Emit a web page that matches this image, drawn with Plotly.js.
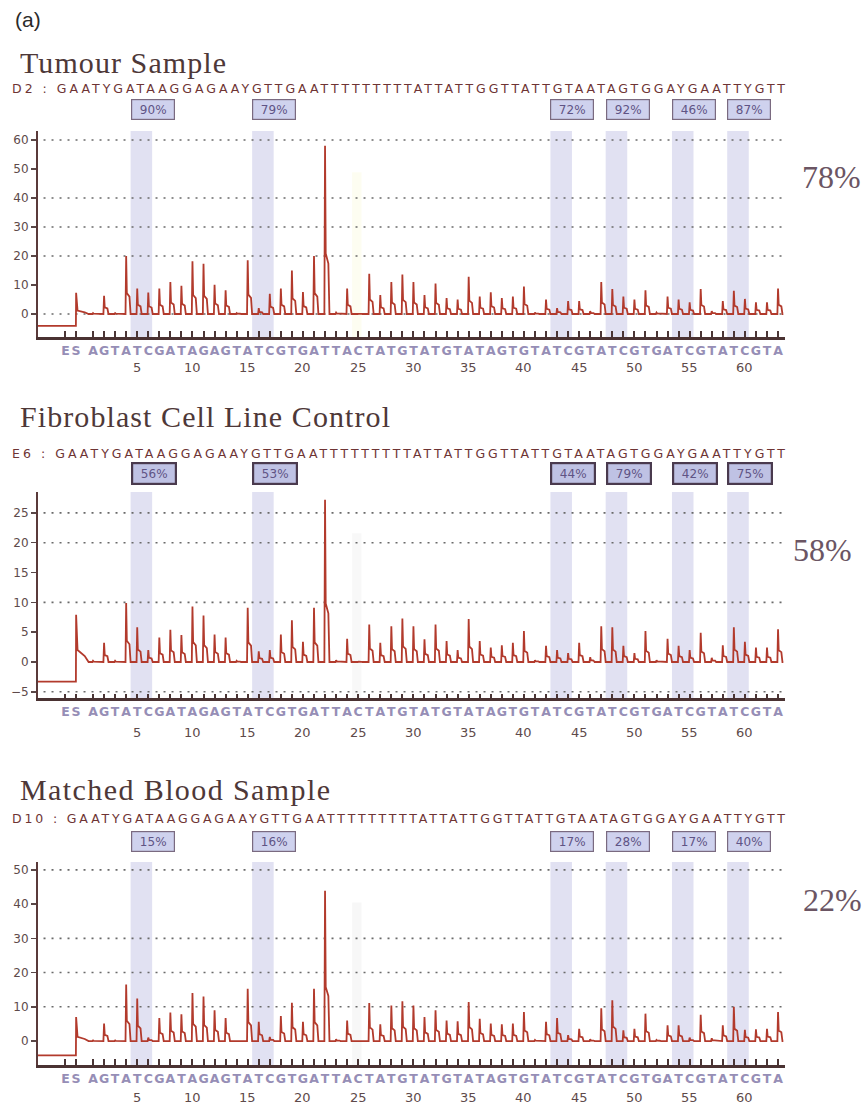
<!DOCTYPE html>
<html>
<head>
<meta charset="utf-8">
<script src="https://cdn.plot.ly/plotly-3.0.1.min.js"></script>
<style>
  html, body { margin: 0; padding: 0; background: #ffffff; }
  #chart { width: 864px; height: 1108px; }
</style>
</head>
<body>
<div id="chart"></div>
<script>
// ---------------- DATA ----------------
// dispensation order (after E and S)
const DISPENSATIONS = 'AGTATCGATAGAGTATCGTGATTACTATGTATGTATAGTGTATCGTATCGTGATCGTATCGTA';
const CONTROL_LETTERS = ['E', 'S'];
const SEQUENCE = 'GAATYGATAAGGAGAAYGTTGAATTTTTTTTTATTATTGGTTATTGTAATAGTGGAYGAATTYGTT';
const SAMPLE_IDS = ['D2', 'E6', 'D10'];
const PANEL_TITLES = ['Tumour Sample', 'Fibroblast Cell Line Control', 'Matched Blood Sample'];
const OVERALL_METHYLATION = ['78%', '58%', '22%'];

// peak heights per dispensation (1..63)
const TUMOUR_HEIGHTS = [0.3, 6.3, 0.3, 20, 8.8, 7.4, 8.8, 11, 9.7, 18.2,
  17.3, 10.1, 8.2, 0.3, 18.5, 2, 7, 8.8, 15, 7.6,
  20, 58, 0.5, 8.8, 0.2, 13.9, 6.5, 11, 13.6, 11,
  6.5, 10.5, 5.5, 5, 12.8, 6, 7.5, 5.5, 6, 9.5,
  0.5, 5, 2, 4.5, 4.5, 1, 11, 8.6, 6, 5,
  8.2, 0.5, 6, 5, 4, 8.6, 1, 4.5, 8, 5.2,
  4, 4, 8.8];
const FIBRO_HEIGHTS = [0.2, 3.2, 0.2, 9.9, 5.8, 2, 4.1, 5.4, 4.5, 9.3,
  7.8, 4.6, 4.1, 0.2, 9.1, 1.8, 2, 4.6, 7, 3.4,
  9.1, 27.2, 0.3, 3.9, 0.1, 6.3, 3.2, 6, 7.3, 6,
  3.8, 6.3, 3.5, 2, 7.2, 3.5, 2.4, 2.8, 3.2, 5.2,
  0.3, 2.7, 2, 1.5, 3.2, 0.8, 6, 5.8, 2.7, 1.5,
  5.2, 0.3, 3.9, 2.7, 2, 4.9, 0.7, 2.8, 5.8, 3.4,
  2.4, 2.4, 5.5];
const BLOOD_HEIGHTS = [0.2, 5.1, 0.2, 16.5, 12.4, 1, 6.7, 8.3, 7.8, 14,
  13, 9, 6.7, 0.2, 15.3, 5.6, 1.2, 7.3, 11.2, 5.6,
  15.3, 43.9, 0.5, 6, 0.2, 11.1, 4.9, 10.4, 11.6, 10.4,
  7, 9, 6, 5.8, 11.4, 6.5, 5.1, 4.9, 5.1, 8.5,
  0.3, 5.6, 6.7, 1.7, 3.6, 0.5, 9.6, 11.9, 3.1, 3.6,
  8, 0.3, 4.6, 4.6, 1, 7.7, 0.8, 4.6, 10, 3.3,
  3.4, 3.6, 8.5];

// signal before / at the E-S step
const PRE_LEVEL = [-4.1, -3.3, -4.2];
const STEP_PEAK = [7.3, 7.9, 7.0];
const POST_LEVEL = [1.2, 2.0, 1.2];

// CpG sites (T dispensation position of each T/C pair) and their methylation
const CPG_T_POSITIONS = [5, 16, 43, 48, 54, 59];
const BISULFITE_CONTROL = 25;
const TUMOUR_PCT = ['90%', '79%', '72%', '92%', '46%', '87%'];
const FIBRO_PCT = ['56%', '53%', '44%', '79%', '42%', '75%'];
const BLOOD_PCT = ['15%', '16%', '17%', '28%', '17%', '40%'];

// axis ticks
const Y_TICKS_TUMOUR = [0, 10, 20, 30, 40, 50, 60];
const Y_TICKS_FIBRO = [-5, 0, 5, 10, 15, 20, 25];
const Y_TICKS_BLOOD = [0, 10, 20, 30, 40, 50];
const GRID_TUMOUR = [0, 20, 30, 40, 60];
const GRID_FIBRO = [-5, 10, 20, 25];
const GRID_BLOOD = [10, 20, 30, 50];
const NUMBER_TICKS = [5, 10, 15, 20, 25, 30, 35, 40, 45, 50, 55, 60];

// ---------------- LAYOUT HELPERS ----------------
const W = 864, H = 1108;
const py = px => 1 - px / H;
const E_POS = -1.5, S_POS = -0.55;
const X_MIN = -3.98, X_MAX = 63.63;

const PANELS = [
  { h: TUMOUR_HEIGHTS, pct: TUMOUR_PCT, yt: Y_TICKS_TUMOUR, grid: GRID_TUMOUR, range: [-7.93, 63.1],
    top: 131, bottom: 337, titleY: 62, titleW: 206, seqY: 88, boxY: 110, numY: 367,
    ovX: 831, ovY: 177, boxBorder: '#7a6a80', boxBW: 1.2, boxBg: '#cfd2ee', faint: 'rgba(248,248,215,0.35)', tickLen: 6 },
  { h: FIBRO_HEIGHTS, pct: FIBRO_PCT, yt: Y_TICKS_FIBRO, grid: GRID_FIBRO, range: [-6.04, 28.5],
    top: 492, bottom: 698, titleY: 416, titleW: 370, seqY: 453, boxY: 473, numY: 732,
    ovX: 822, ovY: 550, boxBorder: '#4a3a4e', boxBW: 2.2, boxBg: '#bfc2e4', faint: 'rgba(236,236,236,0.35)', tickLen: 4 },
  { h: BLOOD_HEIGHTS, pct: BLOOD_PCT, yt: Y_TICKS_BLOOD, grid: GRID_BLOOD, range: [-7.0, 52.3],
    top: 862, bottom: 1065, titleY: 789, titleW: 310, seqY: 818, boxY: 841, numY: 1097,
    ovX: 832, ovY: 900, boxBorder: '#7a6a80', boxBW: 1.2, boxBg: '#cfd2ee', faint: 'rgba(234,234,234,0.4)', tickLen: 6 }
];

const letterVals = [E_POS, S_POS];
const letterText = CONTROL_LETTERS.slice();
DISPENSATIONS.split('').forEach((c, i) => { letterVals.push(i + 1); letterText.push(c); });

function buildTrace(h, k) {
  const xs = [X_MIN, S_POS, S_POS + 0.02, S_POS + 0.15, S_POS + 0.8, 0.6];
  const ys = [PRE_LEVEL[k], PRE_LEVEL[k], STEP_PEAK[k], POST_LEVEL[k], POST_LEVEL[k] * 0.5, 0];
  h.forEach((v, i) => {
    const p = i + 1;
    xs.push(p - 0.06, p, p + 0.06, p + 0.3, p + 0.4);
    ys.push(0, v, v * 0.36, v * 0.3, 0);
  });
  xs.push(X_MAX - 0.15); ys.push(0);
  return { xs, ys };
}

const data = [];
const shapes = [];
const annotations = [];
const layout = {
  width: W, height: H,
  margin: { l: 0, r: 0, t: 0, b: 0 },
  paper_bgcolor: '#ffffff', plot_bgcolor: 'rgba(0,0,0,0)',
  showlegend: false,
  font: { family: 'DejaVu Sans, sans-serif' }
};

annotations.push({ xref: 'paper', yref: 'paper', x: 13 / W, y: py(19), xanchor: 'left', yanchor: 'middle',
  text: '(a)', showarrow: false, font: { family: 'Liberation Sans, Arial, sans-serif', size: 21, color: '#2a2a2a' } });

PANELS.forEach((P, k) => {
  const sfx = k === 0 ? '' : String(k + 1);
  const xa = 'x' + sfx, ya = 'y' + sfx;
  layout['xaxis' + sfx] = {
    domain: [38 / W, 785 / W], range: [X_MIN, X_MAX], anchor: ya,
    tickmode: 'array', tickvals: letterVals, ticktext: letterText, tickangle: 0,
    ticks: 'inside', ticklen: P.tickLen, tickwidth: 2, tickcolor: '#4a3535',
    showline: true, linecolor: '#4a3232', linewidth: 3,
    showgrid: false, zeroline: false, fixedrange: true,
    tickfont: { family: 'DejaVu Sans, sans-serif', size: 12.5, color: '#968eb6', weight: 'bold' }
  };
  layout['yaxis' + sfx] = {
    domain: [py(P.bottom), py(P.top)], range: P.range, anchor: xa,
    tickmode: 'array', tickvals: P.yt,
    ticks: 'outside', ticklen: 5, tickwidth: 1.5, tickcolor: '#5a4848',
    showline: true, linecolor: '#5a3a3a', linewidth: 2,
    showgrid: false, zeroline: false, fixedrange: true,
    tickfont: { family: 'DejaVu Sans, sans-serif', size: 12, color: '#5e4a4a' }
  };

  // CpG bands
  CPG_T_POSITIONS.forEach(t => {
    shapes.push({ type: 'rect', xref: xa, yref: ya + ' domain', x0: t - 0.6, x1: t + 1.35, y0: 0, y1: 1,
      fillcolor: 'rgba(200,200,232,0.55)', line: { width: 0 }, layer: 'below' });
  });
  shapes.push({ type: 'rect', xref: xa, yref: ya + ' domain', x0: BISULFITE_CONTROL - 0.55, x1: BISULFITE_CONTROL + 0.3,
    y0: 0, y1: 0.8, fillcolor: P.faint, line: { width: 0 }, layer: 'below' });
  // dotted gridlines
  P.grid.forEach(v => {
    shapes.push({ type: 'line', xref: xa, yref: ya, x0: X_MIN + 0.5, x1: 63.4, y0: v, y1: v,
      line: { color: '#6a6a6a', width: 1.6, dash: '2px,6px' }, layer: 'below' });
  });

  // pyrogram trace
  const tr = buildTrace(P.h, k);
  data.push({ type: 'scatter', mode: 'lines', x: tr.xs, y: tr.ys, xaxis: xa, yaxis: ya,
    line: { color: '#b23a2c', width: 1.8 }, hoverinfo: 'skip' });

  // title
  annotations.push({ xref: 'paper', yref: 'paper', x: 19 / W, y: py(P.titleY), xanchor: 'left', yanchor: 'middle',
    width: P.titleW, align: 'left', text: PANEL_TITLES[k], showarrow: false, borderpad: 0,
    font: { family: 'Liberation Serif, Times New Roman, serif', size: 30, color: '#4e3838' } });
  // sequence
  annotations.push({ xref: 'paper', yref: 'paper', x: 11 / W, y: py(P.seqY), xanchor: 'left', yanchor: 'middle',
    width: 775, align: 'left', text: SAMPLE_IDS[k] + ' : ' + SEQUENCE, showarrow: false, borderpad: 0,
    font: { family: 'DejaVu Sans, sans-serif', size: 12.5, color: '#6e3434' } });
  // percentage boxes
  CPG_T_POSITIONS.forEach((t, i) => {
    annotations.push({ xref: xa, yref: 'paper', x: t - 0.6, y: py(P.boxY), xanchor: 'left', yanchor: 'middle',
      text: P.pct[i], showarrow: false, width: 38, height: 15, borderpad: 2,
      bgcolor: P.boxBg, bordercolor: P.boxBorder, borderwidth: P.boxBW,
      font: { family: 'DejaVu Sans, sans-serif', size: 12, color: '#5f5485' } });
  });
  // position numbers
  NUMBER_TICKS.forEach(n => {
    annotations.push({ xref: xa, yref: 'paper', x: n, y: py(P.numY), xanchor: 'center', yanchor: 'middle',
      text: String(n), showarrow: false,
      font: { family: 'DejaVu Sans, sans-serif', size: 13, color: '#5e4a4a' } });
  });
  // overall methylation
  annotations.push({ xref: 'paper', yref: 'paper', x: P.ovX / W, y: py(P.ovY), xanchor: 'center', yanchor: 'middle',
    text: OVERALL_METHYLATION[k], showarrow: false,
    font: { family: 'Liberation Serif, Times New Roman, serif', size: 32, color: '#6b5563' } });
});

layout.shapes = shapes;
layout.annotations = annotations;

Plotly.newPlot('chart', data, layout, { staticPlot: true, displayModeBar: false }).then(function (gd) {
  const titleW = {};
  PANEL_TITLES.forEach((t, k) => { titleW[t] = PANELS[k].titleW; });
  gd.querySelectorAll('.annotation-text').forEach(function (el) {
    const s = el.textContent;
    if (s.indexOf(' : ') > 0 && s.length > 60) {
      el.setAttribute('textLength', 773);
      el.setAttribute('lengthAdjust', 'spacing');
    } else if (titleW[s]) {
      el.setAttribute('textLength', titleW[s]);
      el.setAttribute('lengthAdjust', 'spacing');
    }
  });
});
</script>
</body>
</html>
